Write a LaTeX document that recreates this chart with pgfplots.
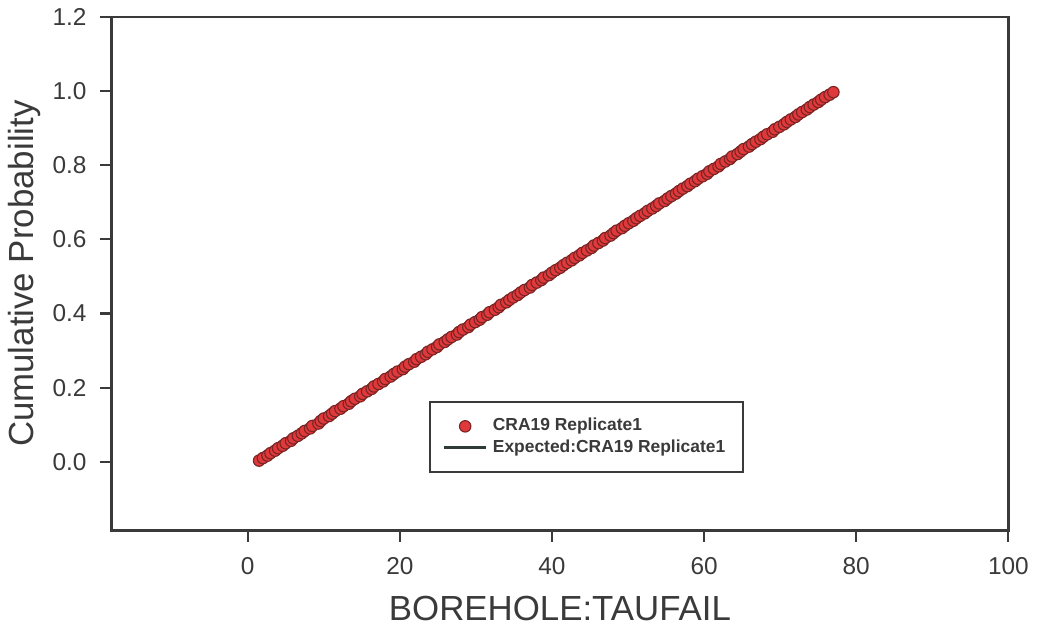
\documentclass[border=0pt]{standalone}
\usepackage{pgfplots}
\pgfplotsset{compat=1.18}
\usepackage{fontspec}
\setmainfont{Liberation Sans}

\definecolor{axisgray}{HTML}{3A3A3A}
\definecolor{dotfill}{HTML}{E0393B}
\definecolor{dotedge}{HTML}{7A2424}
\definecolor{expline}{HTML}{2E3B36}

% cumulative probability of BOREHOLE:TAUFAIL, CRA19 Replicate1
\pgfplotstableread{
x y
1.5 0.0033
2.0 0.0100
2.6 0.0167
3.0 0.0233
3.6 0.0300
4.0 0.0367
4.6 0.0433
5.0 0.0500
5.7 0.0567
6.0 0.0633
6.6 0.0700
7.1 0.0767
7.5 0.0833
8.2 0.0900
8.5 0.0967
9.3 0.1033
9.6 0.1100
10.0 0.1167
10.7 0.1233
11.1 0.1300
11.5 0.1367
12.2 0.1433
12.6 0.1500
13.3 0.1567
13.6 0.1633
14.1 0.1700
14.8 0.1767
15.1 0.1833
15.7 0.1900
16.3 0.1967
16.6 0.2033
17.2 0.2100
17.8 0.2167
18.1 0.2233
18.8 0.2300
19.2 0.2367
19.7 0.2433
20.4 0.2500
20.7 0.2567
21.2 0.2633
21.9 0.2700
22.2 0.2767
22.8 0.2833
23.4 0.2900
23.7 0.2967
24.3 0.3033
24.9 0.3100
25.2 0.3167
25.9 0.3233
26.3 0.3300
26.8 0.3367
27.5 0.3433
27.8 0.3500
28.3 0.3567
29.0 0.3633
29.3 0.3700
29.9 0.3767
30.5 0.3833
30.8 0.3900
31.5 0.3967
31.8 0.4033
32.5 0.4100
33.0 0.4167
33.3 0.4233
34.0 0.4300
34.4 0.4367
34.9 0.4433
35.5 0.4500
35.9 0.4567
36.4 0.4633
37.1 0.4700
37.4 0.4767
38.0 0.4833
38.6 0.4900
38.9 0.4967
39.6 0.5033
40.0 0.5100
40.5 0.5167
41.1 0.5233
41.5 0.5300
42.0 0.5367
42.6 0.5433
43.0 0.5500
43.6 0.5567
44.0 0.5633
44.6 0.5700
45.2 0.5767
45.5 0.5833
46.1 0.5900
46.7 0.5967
47.0 0.6033
47.7 0.6100
48.1 0.6167
48.5 0.6233
49.2 0.6300
49.6 0.6367
50.1 0.6433
50.7 0.6500
51.1 0.6567
51.6 0.6633
52.2 0.6700
52.6 0.6767
53.2 0.6833
53.7 0.6900
54.1 0.6967
54.8 0.7033
55.2 0.7100
55.7 0.7167
56.3 0.7233
56.7 0.7300
57.2 0.7367
57.8 0.7433
58.2 0.7500
58.8 0.7567
59.2 0.7633
59.8 0.7700
60.4 0.7767
60.7 0.7833
61.3 0.7900
61.9 0.7967
62.2 0.8033
62.8 0.8100
63.4 0.8167
63.7 0.8233
64.4 0.8300
64.8 0.8367
65.2 0.8433
65.9 0.8500
66.3 0.8567
66.8 0.8633
67.4 0.8700
67.8 0.8767
68.3 0.8833
69.0 0.8900
69.3 0.8967
69.9 0.9033
70.5 0.9100
70.9 0.9167
71.4 0.9233
72.0 0.9300
72.4 0.9367
72.9 0.9433
73.5 0.9500
73.9 0.9567
74.4 0.9633
75.0 0.9700
75.4 0.9767
75.9 0.9833
76.5 0.9900
77.0 0.9967
}\cradata

\begin{document}
\begin{tikzpicture}
\begin{axis}[
  scale only axis,
  width=360.4pt, height=206.4pt,
  xmin=-17.9, xmax=100,
  ymin=-0.185, ymax=1.2,
  xtick={0,20,40,60,80,100},
  ytick={0,0.2,0.4,0.6,0.8,1.0,1.2},
  yticklabel style={/pgf/number format/fixed, /pgf/number format/fixed zerofill, /pgf/number format/precision=1},
  /pgf/number format/assume math mode=true,
  tick pos=left,
  tick align=outside,
  major tick length=4.5pt,
  axis line style={axisgray, line width=1pt},
  every tick/.style={axisgray, line width=0.9pt},
  tick label style={font=\fontsize{9.8}{11}\selectfont, text=axisgray},
  xticklabel style={yshift=-3pt},
  yticklabel style={xshift=-2pt},
  xlabel={BOREHOLE:TAUFAIL},
  ylabel={Cumulative Probability},
  label style={font=\fontsize{14}{16}\selectfont, text=axisgray},
  xlabel style={at={(axis description cs:0.5,-0.152)}, anchor=center},
  ylabel style={at={(axis description cs:-0.097,0.5)}, anchor=center},
  legend style={
    at={(rel axis cs:0.354,0.252)}, anchor=north west,
    draw=axisgray, line width=0.8pt,
    font=\fontsize{7}{8}\bfseries\selectfont, text=axisgray,
    inner xsep=5pt, inner ysep=5.5pt,
    row sep=0pt,
    nodes={inner ysep=1pt},
    /tikz/every even column/.append style={column sep=3pt},
  },
  legend cell align=left,
]
% expected line sits underneath the observed points
\addplot[expline, line width=1.2pt, forget plot] coordinates {(1.5,0.0033) (77.0,0.9967)};
\addplot[only marks, mark=*, mark size=2.3pt,
  mark options={fill=dotfill, draw=dotedge, line width=0.45pt}]
  table[x=x, y=y] {\cradata};
\addlegendentry{CRA19 Replicate1}
\addlegendimage{expline, line width=1.2pt}
\addlegendentry{Expected:CRA19 Replicate1}
\end{axis}
\end{tikzpicture}
\end{document}
